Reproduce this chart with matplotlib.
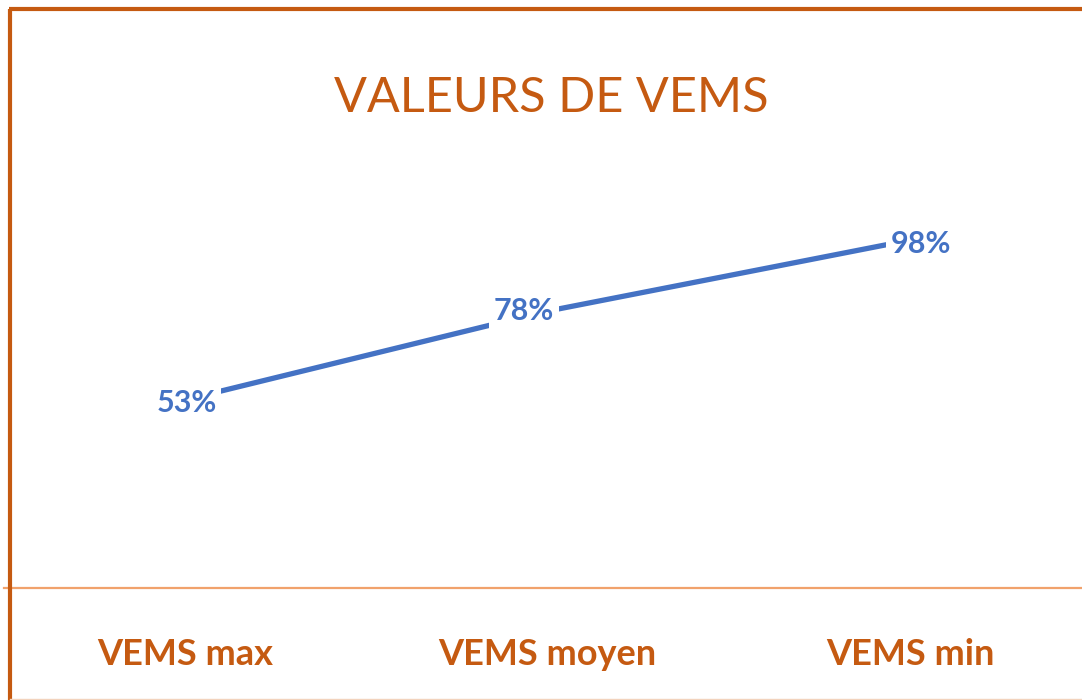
import numpy as np
import matplotlib
matplotlib.use('Agg')
import matplotlib.pyplot as plt
from matplotlib.lines import Line2D

# valeurs de VEMS par catégorie
categories = ['VEMS max', 'VEMS moyen', 'VEMS min']
valeurs = [0.53, 0.78, 0.98]
etiquettes = ['53%', '78%', '98%']

orange = '#C55A11'
orange_clair = '#F1A26C'
bleu = '#4472C4'

plt.rcParams['font.family'] = ['Lato', 'DejaVu Sans']

fig = plt.figure(figsize=(10.82, 7.0), dpi=100)
fig.patch.set_facecolor('white')

W, H = 1082, 700
ax = fig.add_axes([3.75 / W, (H - 588) / H, 1087.5 / W, 426 / H])
ax.set_facecolor('none')

x = np.arange(len(categories))
ax.plot(x, valeurs, color=bleu, lw=3.8, solid_capstyle='butt', zorder=2)

# décalage des étiquettes (en points)
decalages = [(1, -2), (-17, 0), (8, -3)]
for xi, v, t, d in zip(x, valeurs, etiquettes, decalages):
    ax.annotate(t, (xi, v), xytext=d, textcoords='offset points',
                ha='center', va='center', fontsize=22, fontweight='bold',
                color=bleu, zorder=3,
                bbox=dict(boxstyle='square,pad=0.15', fc='white', ec='none'))

ax.set_xlim(-0.5, 2.5)
ax.set_ylim(0, 1.2)
ax.set_xticks(x)
ax.set_xticklabels(categories, fontsize=26, fontweight='bold', color=orange)
ax.tick_params(axis='x', length=0, pad=36)
ax.set_yticks([])
for s in ['top', 'left', 'right']:
    ax.spines[s].set_visible(False)
ax.spines['bottom'].set_color(orange_clair)
ax.spines['bottom'].set_linewidth(1.6)

fig.text(551 / W, 1 - 98 / H, 'VALEURS DE VEMS', ha='center', va='center',
         fontsize=35, color=orange)

# cadre du graphique
fig.add_artist(Line2D([10 / W, 10 / W], [0, 1 - 9 / H], transform=fig.transFigure,
                      color=orange, lw=3, solid_capstyle='butt'))
fig.add_artist(Line2D([8.5 / W, 1.0], [1 - 9 / H, 1 - 9 / H], transform=fig.transFigure,
                      color=orange, lw=3, solid_capstyle='butt'))
fig.add_artist(Line2D([10 / W, 1.0], [1 / H, 1 / H], transform=fig.transFigure,
                      color='#F2D3BD', lw=1))

fig.savefig('out.png', dpi=100)
